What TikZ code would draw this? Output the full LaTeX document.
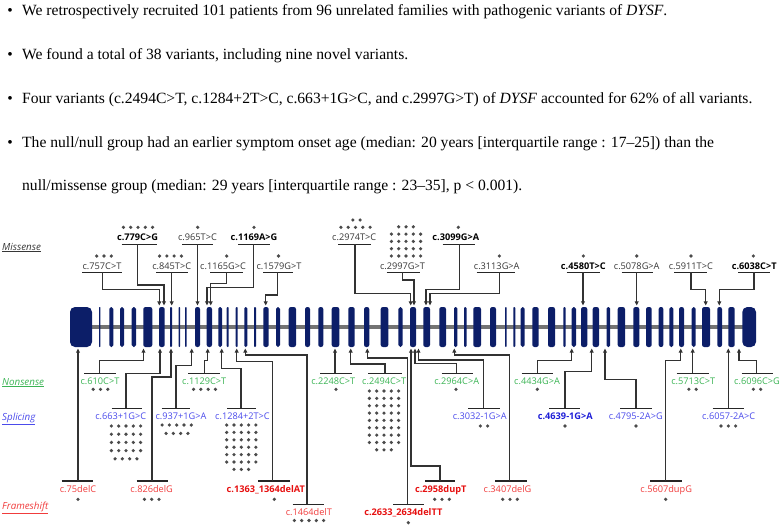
\documentclass[tikz,border=0pt]{standalone}
\usepackage{fontspec}
\setmainfont{Liberation Serif}
\newfontfamily\labfont{Open Sans}
\usetikzlibrary{arrows.meta}
\definecolor{navy}{RGB}{12,30,104}
\definecolor{spine}{RGB}{115,115,115}
\definecolor{conncol}{RGB}{50,50,50}
\definecolor{misc}{RGB}{55,55,55}
\definecolor{nonc}{RGB}{60,180,85}
\definecolor{splc}{RGB}{75,75,235}
\definecolor{splbc}{RGB}{30,30,215}
\definecolor{fsc}{RGB}{240,60,60}
\definecolor{fsbc}{RGB}{230,15,15}
\definecolor{dotc}{RGB}{75,75,75}
\newcommand\dotrowx[3]{\foreach \k in {1,...,#3}{\fill[dotc] ({#1+(\k-(#3+1)/2)*7.3},#2) circle (1.8);}}
\newcommand\vlab[8]{\node[#2] (#1) at (#4,#5) {#3};\draw[barline] (#6,#8) -- (#7,#8);}
\tikzset{
 lab/.style={font=\labfont\fontsize{9.2}{11}\selectfont, inner sep=0pt, anchor=base},
 labb/.style={font=\labfont\bfseries\fontsize{9.2}{11}\selectfont, inner sep=0pt, anchor=base},
 mis/.style={lab, text=misc},
 misb/.style={labb, text=black},
 non/.style={lab, text=nonc},
 spl/.style={lab, text=splc},
 splb/.style={labb, text=splbc},
 fs/.style={lab, text=fsc},
 fsb/.style={labb, text=fsbc},
 barline/.style={draw=black!85, line width=1.4pt},
 link/.style={draw=conncol, line width=1.1pt, -{Triangle[length=4.2pt,width=3.8pt]}},
 cat/.style={font=\labfont\itshape\fontsize{9.8}{12}\selectfont, inner sep=0pt, anchor=base west},
 body/.style={font=\fontsize{15.6}{18}\selectfont, inner sep=0pt, anchor=base west},
 bul/.style={font=\fontsize{15.6}{18}\selectfont, inner sep=0pt, anchor=base},
}
\begin{document}
\begin{tikzpicture}[x=1pt,y=-1pt]
\useasboundingbox (0,0) rectangle (780,525);
% ---------- body text ----------
\node[bul] (u1) at (10,15.5) {•};
\node[body] (l1) at (22,15.5) {We retrospectively recruited 101 patients from 96 unrelated families with pathogenic variants of \textit{DYSF}.};
\node[bul] (u2) at (10,59.5) {•};
\node[body] (l2) at (22,59.5) {We found a total of 38 variants, including nine novel variants.};
\node[bul] (u3) at (10,103.5) {•};
\node[body] (l3) at (22,103.5) {Four variants (c.2494C>T, c.1284+2T>C, c.663+1G>C, and c.2997G>T) of \textit{DYSF} accounted for 62\% of all variants.};
\node[bul] (u4) at (10,147.5) {•};
\node[body] (l4) at (22,147.5) {The null/null group had an earlier symptom onset age (median: 20 years [interquartile range : 17–25]) than the};
\node[body] (l5) at (22,190.5) {null/missense group (median: 29 years [interquartile range : 23–35], p < 0.001).};
% ---------- categories ----------
\node[cat, text=misc] (cmis) at (2,250) {\underline{Missense}};
\node[cat, text=nonc] (cnon) at (2,385) {\underline{Nonsense}};
\node[cat, text=splc] (cspl) at (2,420) {\underline{Splicing}};
\node[cat, text=fsc] (cfs) at (2,509) {\underline{Frameshift}};
% ---------- gene ----------
\draw[spine, line width=4pt] (76,327) -- (752,327);
\fill[navy, rounded corners=5pt] (70,307) rectangle (92,347);
\fill[navy, rounded corners=5pt] (742.3,307) rectangle (756,347);
\foreach \a/\b in {99/100.4,109.3/113.3,120/124,131.7/136,143.3/152.3,159/164.7,170/172,178.7/180,185/186.7,195/200,206.7/212,218.3/222,226.7/228.7,235.7/237.7,244.3/247.3,254/256,263.3/268.7,276/280,288.7/296,305/310,318.3/323.3,331.7/339.3,348.3/354.7,364/369.3,380.7/388.3,398.3/402.7,410/416,423.3/430,439.3/446,454/457.3,464/466.7,473.3/481,490/496,505/506.7,513.3/515.3,520.7/524.7,532.3/538.7,548/555,563.3/565.7,571.7/576,581/587.3,592.7/599,606.7/610,617.7/625,633.3/639.3,646/651.7,658.7/663.3,669.3/673.3,679/684,691.7/695.7,702/710,717.3/722,728.3/734.7}{
  \pgfmathsetmacro\rr{min(2.2,(\b-\a)*0.45)}
  \fill[navy, rounded corners=\rr pt] (\a,307) rectangle (\b,347);
}
% ---------- missense (top) ----------
\vlab{v779}{misb}{c.779C>G}{137.5}{240.6}{121.7}{156.7}{244.3}
\vlab{v965}{mis}{c.965T>C}{197.5}{240.6}{182}{213}{244.3}
\vlab{v1169}{misb}{c.1169A>G}{254}{240.6}{238}{270}{244.3}
\vlab{v2974}{mis}{c.2974T>C}{354.2}{240.6}{338.3}{371}{244.3}
\vlab{v3099}{misb}{c.3099G>A}{455.8}{240.6}{442.7}{475}{244.3}
\vlab{v757}{mis}{c.757C>T}{102}{269}{82}{122}{272.3}
\vlab{v845}{mis}{c.845T>C}{171.7}{269}{156}{188.3}{272.3}
\vlab{v1165}{mis}{c.1165G>C}{223}{269}{210}{242.7}{272.3}
\vlab{v1579}{mis}{c.1579G>T}{279}{269}{263.3}{293.3}{272.3}
\vlab{v2997}{mis}{c.2997G>T}{402.5}{269}{386.7}{420}{272.3}
\vlab{v3113}{mis}{c.3113G>A}{496.7}{269}{476.7}{515}{272.3}
\vlab{v4580}{misb}{c.4580T>C}{583.3}{269}{566.7}{600}{272.3}
\vlab{v5078}{mis}{c.5078G>A}{636.7}{269}{621.7}{653.3}{272.3}
\vlab{v5911}{mis}{c.5911T>C}{690.8}{269}{674.3}{706.7}{272.3}
\vlab{v6038}{misb}{c.6038C>T}{754.2}{269}{738}{770}{272.3}
% bar anchors and exon targets (top)
\coordinate (b779) at (137.3,244.3); \coordinate (t779) at (164,305.5);
\coordinate (b965) at (197.5,244.3); \coordinate (t965) at (197.5,305.5);
\coordinate (b1169) at (253.3,244.3); \coordinate (t1169) at (207,305.5);
\coordinate (b2974) at (355,244.3); \coordinate (t2974) at (410.7,305.5);
\coordinate (b3099) at (459.3,244.3); \coordinate (t3099) at (426,305.5);
\coordinate (b757) at (102.3,272.3); \coordinate (t757) at (159.3,305.5);
\coordinate (b845) at (171.7,272.3); \coordinate (t845) at (171.7,305.5);
\coordinate (b1165) at (226.7,272.3); \coordinate (t1165) at (210.7,305.5);
\coordinate (b1579) at (277.5,272.3); \coordinate (t1579) at (265.7,305.5);
\coordinate (b2997) at (402.7,272.3); \coordinate (t2997) at (414,305.5);
\coordinate (b3113) at (499.3,272.3); \coordinate (t3113) at (430,305.5);
\coordinate (b4580) at (583,272.3); \coordinate (t4580) at (583,305.5);
\coordinate (b5078) at (636.7,272.3); \coordinate (t5078) at (636.7,305.5);
\coordinate (b5911) at (691,272.3); \coordinate (t5911) at (705.7,305.5);
\coordinate (b6038) at (754,272.3); \coordinate (t6038) at (719.3,305.5);
\draw[link] (b779) -- (b779 |- 0,285) -| (t779);
\draw[link] (b965) -- (t965);
\draw[link] (b1169) -- (b1169 |- 0,287.7) -| (t1169);
\draw[link] (b2974) -- (b2974 |- 0,293.3) -| (t2974);
\draw[link] (b3099) -- (b3099 |- 0,289.3) -| (t3099);
\draw[link] (b757) -- (b757 |- 0,289.3) -| (t757);
\draw[link] (b845) -- (t845);
\draw[link] (b1165) -- (b1165 |- 0,283.3) -| (t1165);
\draw[link] (b1579) -- (b1579 |- 0,295) -| (t1579);
\draw[link] (b2997) -- (b2997 |- 0,280) -| (t2997);
\draw[link] (b3113) -- (b3113 |- 0,293.3) -| (t3113);
\draw[link] (b4580) -- (t4580);
\draw[link] (b5078) -- (t5078);
\draw[link] (b5911) -- (b5911 |- 0,289.3) -| (t5911);
\draw[link] (b6038) -- (b6038 |- 0,289.3) -| (t6038);
% top dots
\dotrowx{138}{227.3}{5}
\dotrowx{197.7}{227.3}{1}
\dotrowx{254}{227.3}{1}
\dotrowx{355.5}{227.3}{5}
\dotrowx{356.5}{220}{2}
\dotrowx{458.3}{227.3}{1}
\dotrowx{104}{256}{3}
\dotrowx{170.5}{256}{4}
\dotrowx{226.7}{256}{1}
\dotrowx{278.5}{256}{1}
\foreach \yy in {256,248.7,241.4,234.1}{\dotrowx{406}{\yy}{5}}
\dotrowx{406}{226.8}{3}
\dotrowx{499.3}{256}{1}
\dotrowx{583.3}{256}{1}
\dotrowx{636.7}{256}{1}
\dotrowx{691}{256}{1}
\dotrowx{753.3}{256}{1}
% ---------- nonsense ----------
\vlab{n610}{non}{c.610C>T}{100}{384}{84}{116}{373.3}
\vlab{n1129}{non}{c.1129C>T}{204.2}{384}{188.3}{220}{373.3}
\vlab{n2248}{non}{c.2248C>T}{333.3}{384}{320}{351.7}{373.3}
\vlab{n2494}{non}{c.2494C>T}{384.2}{384}{368.3}{401.7}{373.3}
\vlab{n2964}{non}{c.2964C>A}{456.7}{384}{441.7}{472.7}{373.3}
\vlab{n4434}{non}{c.4434G>A}{537}{384}{521.7}{553.3}{373.3}
\vlab{n5713}{non}{c.5713C>T}{693.3}{384}{676.7}{709.3}{373.3}
\vlab{n6096}{non}{c.6096C>G}{757}{384}{741.7}{773.3}{373.3}
% ---------- splicing ----------
\vlab{s663}{spl}{c.663+1G>C}{120.8}{419.3}{111.7}{141.7}{408.3}
\vlab{s937}{spl}{c.937+1G>A}{181}{419.3}{161.7}{190}{408.3}
\vlab{s1284}{spl}{c.1284+2T>C}{242.5}{419.3}{227.3}{256}{408.3}
\vlab{s3032}{spl}{c.3032-1G>A}{479.7}{419.3}{468.3}{500}{408.3}
\vlab{s4639}{splb}{c.4639-1G>A}{565.3}{419.3}{549.3}{580}{408.3}
\vlab{s4795}{spl}{c.4795-2A>G}{635.8}{419.3}{620}{651.7}{408.3}
\vlab{s6057}{spl}{c.6057-2A>C}{728.7}{419.3}{712.7}{744}{408.3}
% ---------- frameshift ----------
\vlab{f75}{fs}{c.75delC}{78}{492}{61.7}{93.3}{481}
\vlab{f826}{fs}{c.826delG}{151.7}{492}{136.7}{168.3}{481}
\vlab{f1363}{fsb}{c.1363\_1364delAT}{265.8}{492}{258.3}{290}{481}
\vlab{f2958}{fsb}{c.2958dupT}{440.8}{492}{425}{455}{481}
\vlab{f3407}{fs}{c.3407delG}{507.5}{492}{495}{526.7}{481}
\vlab{f5607}{fs}{c.5607dupG}{666.2}{492}{650}{681.7}{481}
\vlab{f1464}{fs}{c.1464delT}{308.8}{515.5}{292.7}{324}{504.2}
\vlab{f2633}{fsb}{c.2633\_2634delTT}{403.3}{515.5}{393.3}{424}{504.2}
% bar anchors and exon targets (bottom)
\coordinate (bn610) at (99.3,373.3); \coordinate (tn610) at (143.5,348.5);
\coordinate (bn1129) at (204.5,373.3); \coordinate (tn1129) at (207.7,348.5);
\coordinate (bn2248) at (335,373.3); \coordinate (tn2248) at (335,348.5);
\coordinate (bn2494) at (385,373.3); \coordinate (tn2494) at (350.7,348.5);
\coordinate (bn2964) at (456.7,373.3); \coordinate (tn2964) at (415,348.5);
\coordinate (bn4434) at (537.3,373.3); \coordinate (tn4434) at (571.7,348.5);
\coordinate (bn5713) at (692.7,373.3); \coordinate (tn5713) at (692.7,348.5);
\coordinate (bn6096) at (756.7,373.3); \coordinate (tn6096) at (739,348.5);
\coordinate (bs663) at (126,408.3); \coordinate (ts663) at (160,348.5);
\coordinate (bs937) at (176,408.3); \coordinate (ts937) at (191.7,348.5);
\coordinate (bs1284) at (241,408.3); \coordinate (ts1284) at (221.7,348.5);
\coordinate (bs3032) at (483.3,408.3); \coordinate (ts3032) at (418.5,348.5);
\coordinate (bs4639) at (565,408.3); \coordinate (ts4639) at (591.7,348.5);
\coordinate (bs4795) at (636,408.3); \coordinate (ts4795) at (605,348.5);
\coordinate (bs6057) at (728.3,408.3); \coordinate (ts6057) at (728.3,348.5);
\coordinate (bf75) at (78,481); \coordinate (tf75) at (78,348.5);
\coordinate (bf826) at (152,481); \coordinate (tf826) at (171,348.5);
\coordinate (bf1363) at (272.5,481); \coordinate (tf1363) at (236.7,348.5);
\coordinate (bf2958) at (440,481); \coordinate (tf2958) at (411,348.5);
\coordinate (bf3407) at (509.3,481); \coordinate (tf3407) at (454.3,348.5);
\coordinate (bf5607) at (665.7,481); \coordinate (tf5607) at (680.7,348.5);
\coordinate (bf1464) at (307,504.2); \coordinate (tf1464) at (245.3,348.5);
\coordinate (bf2633) at (407.3,504.2); \coordinate (tf2633) at (367.3,348.5);
\draw[link] (bn610) -- (bn610 |- 0,360.7) -| (tn610);
\draw[link] (bn1129) -- (bn1129 |- 0,360.5) -| (tn1129);
\draw[link] (bn2248) -- (tn2248);
\draw[link] (bn2494) -- (bn2494 |- 0,364) -| (tn2494);
\draw[link] (bn2964) -- (bn2964 |- 0,363.5) -| (tn2964);
\draw[link] (bn4434) -- (bn4434 |- 0,360.7) -| (tn4434);
\draw[link] (bn5713) -- (tn5713);
\draw[link] (bn6096) -- (bn6096 |- 0,360.7) -| (tn6096);
\draw[link] (bs663) -- (bs663 |- 0,373.3) -| (ts663);
\draw[link] (bs937) -- (bs937 |- 0,365.7) -| (ts937);
\draw[link] (bs1284) -- (bs1284 |- 0,368.3) -| (ts1284);
\draw[link] (bs3032) -- (bs3032 |- 0,360) -| (ts3032);
\draw[link] (bs4639) -- (bs4639 |- 0,371.7) -| (ts4639);
\draw[link] (bs4795) -- (bs4795 |- 0,379.3) -| (ts4795);
\draw[link] (bs6057) -- (ts6057);
\draw[link] (bf75) -- (tf75);
\draw[link] (bf826) -- (bf826 |- 0,377) -| (tf826);
\draw[link] (bf1363) -- (bf1363 |- 0,361.7) -| (tf1363);
\draw[link] (bf2958) -- (bf2958 |- 0,466) -| (tf2958);
\draw[link] (bf3407) -- (bf3407 |- 0,355) -| (tf3407);
\draw[link] (bf5607) -- (bf5607 |- 0,360.7) -| (tf5607);
\draw[link] (bf1464) -- (bf1464 |- 0,355) -| (tf1464);
\draw[link] (bf2633) -- (bf2633 |- 0,358) -| (tf2633);
% bottom dots
\dotrowx{100.5}{389.3}{3}
\dotrowx{204.5}{389.3}{4}
\dotrowx{336}{389.3}{1}
\foreach \yy in {391,398.35,405.7,413.05,420.4,427.75,435.1,442.45}{\dotrowx{384}{\yy}{5}}
\dotrowx{384}{449.8}{3}
\dotrowx{456}{389.3}{1}
\dotrowx{537.3}{389.3}{1}
\dotrowx{692.5}{389.3}{2}
\dotrowx{757}{389.3}{2}
\foreach \yy in {426,434.2,442.4,450.6}{\dotrowx{126}{\yy}{5}}
\dotrowx{126}{458.8}{4}
\dotrowx{176.7}{425}{5}
\dotrowx{177}{433.4}{4}
\foreach \yy in {425,432.4,439.8,447.2,454.6,462}{\dotrowx{241.3}{\yy}{5}}
\dotrowx{241.3}{469.4}{3}
\dotrowx{484}{426}{2}
\dotrowx{565}{426}{1}
\dotrowx{636}{426}{1}
\dotrowx{728.3}{426}{3}
\dotrowx{78}{499.3}{1}
\dotrowx{151.7}{499.3}{3}
\dotrowx{274.3}{499.3}{1}
\dotrowx{442}{499.3}{3}
\dotrowx{510}{499.3}{3}
\dotrowx{665.7}{499.3}{1}
\dotrowx{309}{520.5}{5}
\dotrowx{408.3}{522.7}{1}
\end{tikzpicture}
\end{document}
